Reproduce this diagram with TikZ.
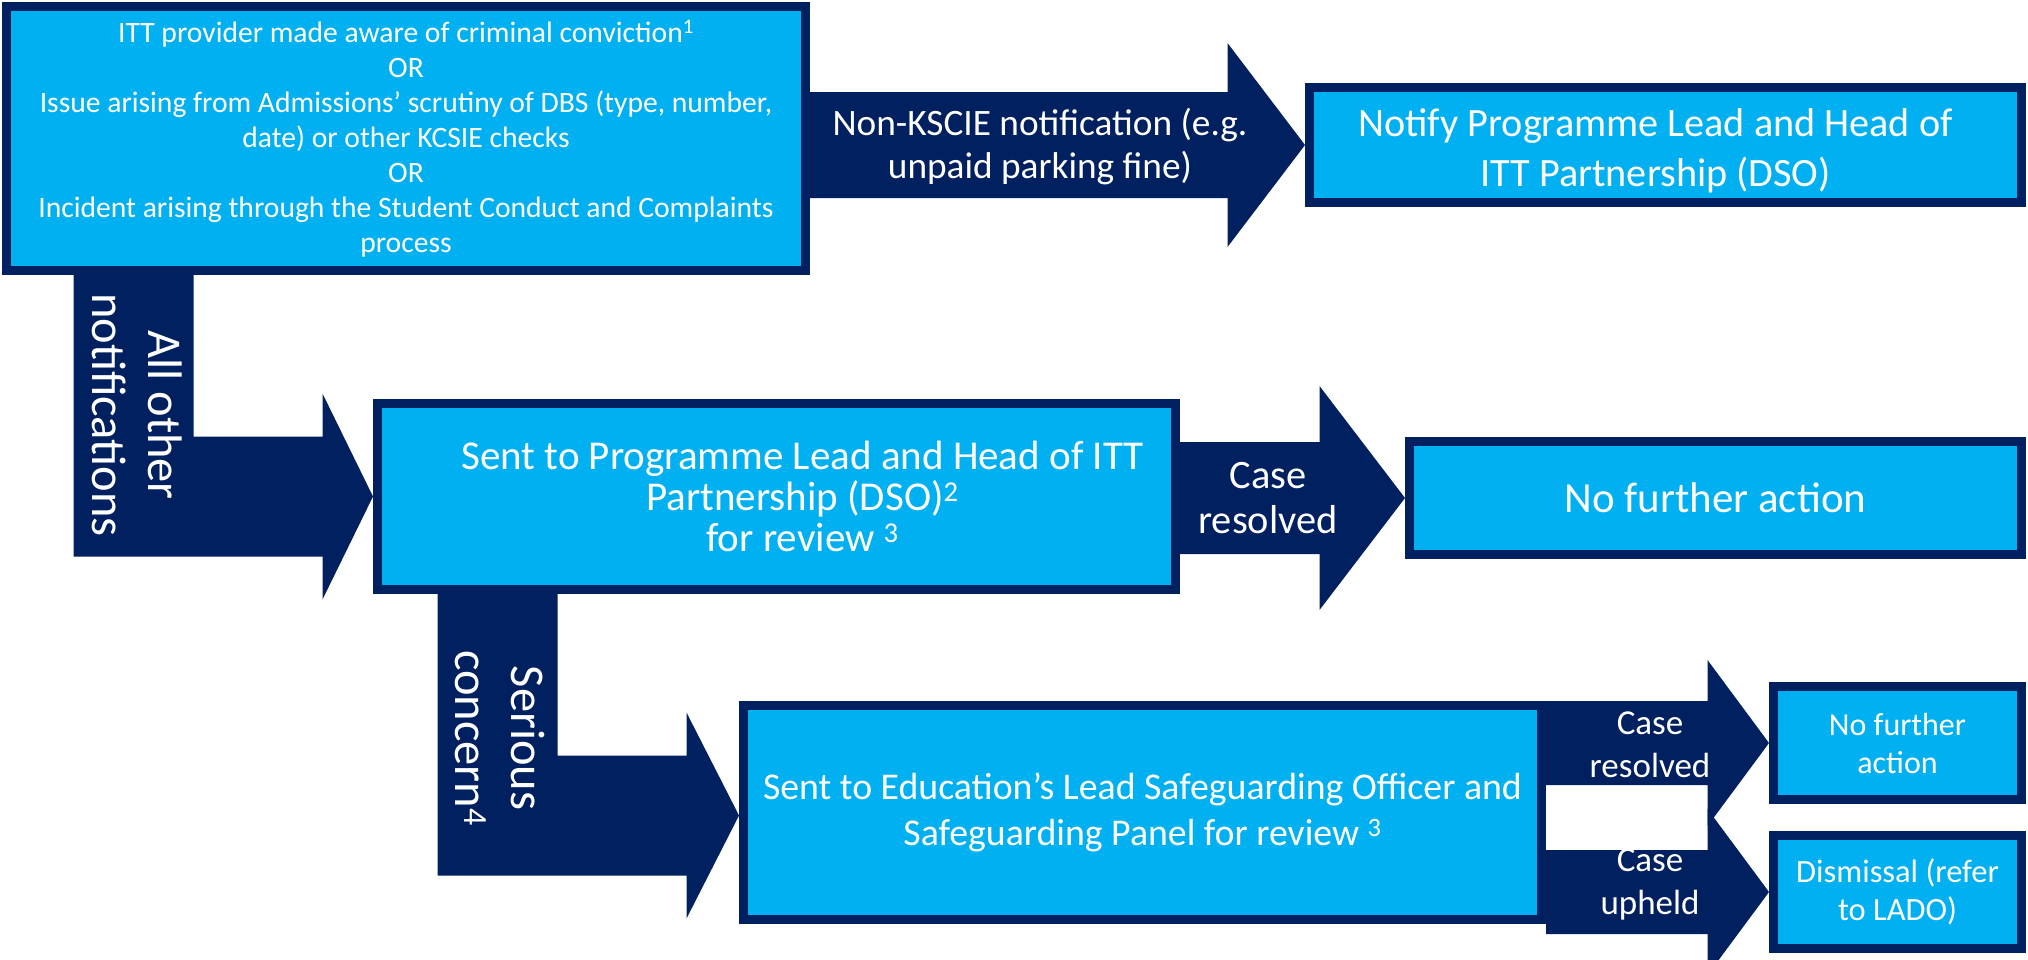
\documentclass[tikz,border=0pt]{standalone}
\usepackage{fontspec}
\setmainfont{Carlito}
\usetikzlibrary{positioning, calc, backgrounds}
\definecolor{navy}{RGB}{0,32,96}
\definecolor{sky}{RGB}{0,176,240}

\begin{document}
\begin{tikzpicture}[
    x=1pt, y=-1pt,
    stage/.style={rectangle, draw=navy, fill=sky, line width=9pt, text=white, align=center, inner sep=0pt},
    fat/.style={fill=navy},
    flowtext/.style={text=white, align=center, inner sep=0pt},
    sidetext/.style={flowtext, rotate=-90, font=\fontsize{48.5}{56}\selectfont}
  ]
  \useasboundingbox (0,0) rectangle (2028,959);
  \clip (0,0) rectangle (2028,959);

  % Boxes
  \node (trigger) [stage, minimum width=799pt, minimum height=264pt, font=\fontsize{29.6}{35}\selectfont] at (406,138.5)
    {ITT provider made aware of criminal conviction\textsuperscript{1}\\OR\\Issue arising from Admissions' scrutiny of DBS (type, number,\\date) or other KCSIE checks\\OR\\Incident arising through the Student Conduct and Complaints\\process};
  \node (notify) [stage, minimum width=712pt, minimum height=115pt] at (1665.5,145) {};
  \node (notifytext) [flowtext, font=\fontsize{40.2}{50}\selectfont] at ($(notify)+(-10,6)$)
    {Notify Programme Lead and Head of\\ITT Partnership (DSO)};
  \node (review1) [stage, minimum width=798pt, minimum height=186pt] at (776.5,496.5) {};
  \node (review1text) [flowtext, font=\fontsize{41}{41}\selectfont] at ($(review1)+(26,0)$)
    {Sent to Programme Lead and Head of ITT\\Partnership (DSO)\textsuperscript{2}\\for review \textsuperscript{3}};
  \node (nfa1) [stage, minimum width=612pt, minimum height=113pt, font=\fontsize{42.9}{52}\selectfont] at (1715.5,498)
    {No further action};
  \node (review2) [stage, minimum width=798pt, minimum height=214pt, font=\fontsize{37.8}{46}\selectfont] at (1142.5,812)
    {Sent to Education's Lead Safeguarding Officer and\\Safeguarding Panel for review \textsuperscript{3}};
  \node (nfa2) [stage, minimum width=248pt, minimum height=113pt, font=\fontsize{32}{38}\selectfont] at (1897.5,743)
    {No further\\action};
  \node (dismiss) [stage, minimum width=248pt, minimum height=113pt, font=\fontsize{32.5}{38}\selectfont, below=27pt of nfa2]
    {Dismissal (refer\\to LADO)};

  % Block arrows
  \begin{scope}[on background layer]
    % Non-KSCIE route
    \fill[fat] ($(trigger.east |- notify.west)+(0,-53)$) -- ($(notify.west)+(-77.5,-53)$) -- ($(notify.west)+(-77.5,-102)$)
      -- (notify.west) -- ($(notify.west)+(-77.5,102)$) -- ($(notify.west)+(-77.5,53)$) -- ($(trigger.east |- notify.west)+(0,53)$) -- cycle;
    % All other notifications
    \coordinate (barA) at ($(trigger.south west)+(71.5,0)$);
    \coordinate (barB) at ($(trigger.south west)+(191.5,0)$);
    \fill[fat] (barA) -- (barB) -- ($(barB |- review1.west)+(0,-60)$) -- ($(review1.west)+(-50.5,-60)$) -- ($(review1.west)+(-50.5,-103)$)
      -- (review1.west) -- ($(review1.west)+(-50.5,103)$) -- ($(review1.west)+(-50.5,60)$) -- ($(barA |- review1.west)+(0,60)$) -- cycle;
    % Case resolved
    \fill[fat] ($(review1.east |- nfa1.west)+(0,-56)$) -- ($(nfa1.west)+(-85.5,-56)$) -- ($(nfa1.west)+(-85.5,-112)$)
      -- (nfa1.west) -- ($(nfa1.west)+(-85.5,112)$) -- ($(nfa1.west)+(-85.5,56)$) -- ($(review1.east |- nfa1.west)+(0,56)$) -- cycle;
    % Serious concern
    \coordinate (barC) at ($(review1.south west)+(64.5,0)$);
    \coordinate (barD) at ($(review1.south west)+(184.5,0)$);
    \coordinate (in2) at ($(review2.west)+(0,3.5)$);
    \fill[fat] (barC) -- (barD) -- ($(barD |- in2)+(0,-60)$) -- ($(in2)+(-52.5,-60)$) -- ($(in2)+(-52.5,-103)$)
      -- (in2) -- ($(in2)+(-52.5,103)$) -- ($(in2)+(-52.5,60)$) -- ($(barC |- in2)+(0,60)$) -- cycle;
    % Panel outcomes
    \fill[fat] ($(review2.east |- nfa2.west)+(0,-42)$) -- ($(nfa2.west)+(-61.5,-42)$) -- ($(nfa2.west)+(-61.5,-83)$)
      -- (nfa2.west) -- ($(nfa2.west)+(-61.5,83)$) -- ($(nfa2.west)+(-61.5,42)$) -- ($(review2.east |- nfa2.west)+(0,42)$) -- cycle;
    \fill[fat] ($(review2.east |- dismiss.west)+(0,-42)$) -- ($(dismiss.west)+(-61.5,-42)$) -- ($(dismiss.west)+(-61.5,-83)$)
      -- (dismiss.west) -- ($(dismiss.west)+(-61.5,83)$) -- ($(dismiss.west)+(-61.5,42)$) -- ($(review2.east |- dismiss.west)+(0,42)$) -- cycle;
  \end{scope}

  % Arrow labels
  \node (nonlabel) [flowtext, font=\fontsize{37.3}{43}\selectfont] at (1040,147) {Non-KSCIE notification (e.g.\\unpaid parking fine)};
  \node (alllabel) [sidetext] at (137,415) {All other\\notifications};
  \node (midlabel) [flowtext, font=\fontsize{40.4}{45}\selectfont] at (1268,498) {Case\\resolved};
  \node (serlabel) [sidetext] at (500,738) {Serious\\concern\textsuperscript{4}};
  \node (reslabel) [flowtext, font=\fontsize{35}{43}\selectfont] at (1650,745) {Case\\resolved};
  \node (uplabel) [flowtext, font=\fontsize{35}{43}\selectfont] at (1650,884) {Case\\upheld};
\end{tikzpicture}
\end{document}
